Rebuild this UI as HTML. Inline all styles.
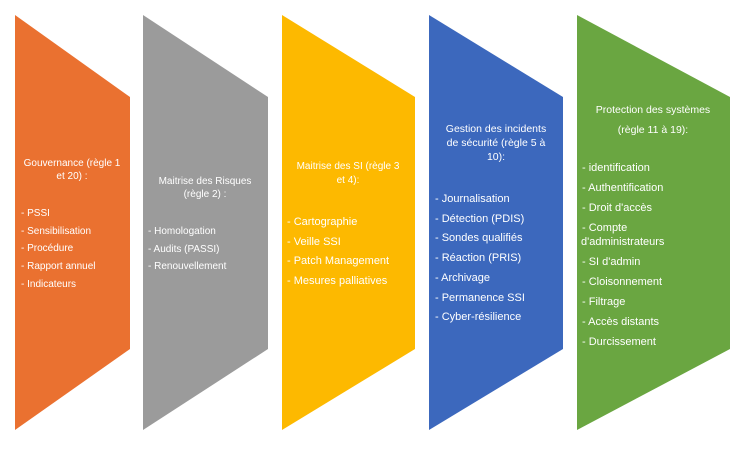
<!DOCTYPE html>
<html><head><meta charset="utf-8"><style>
body{margin:0;width:744px;height:457px;background:#fff;position:relative;overflow:hidden;font-family:"Liberation Sans",sans-serif;color:#fff}
svg{position:absolute;left:0;top:0}
.t{position:absolute;white-space:nowrap;line-height:1}
.c{text-align:center;transform:translateX(-50%)}
</style></head><body>
<svg width="744" height="457">
<polygon points="15,15 130,97 130,349 15,430" fill="#ea7130"/>
<polygon points="143,15 268,97 268,349 143,430" fill="#9b9b9b"/>
<polygon points="282,15 415,97 415,349 282,430" fill="#fdb900"/>
<polygon points="429,15 563,97 563,349 429,430" fill="#3c68bd"/>
<polygon points="577,15 730,97 730,349 577,430" fill="#6aa641"/>
</svg>
<div class="t c" style="left:72px;top:157px;font-size:10px;line-height:13px">Gouvernance (règle 1<br>et 20) :</div>
<div class="t" style="left:21px;top:205px;font-size:10px;line-height:17.7px">- PSSI<br>- Sensibilisation<br>- Procédure<br>- Rapport annuel<br>- Indicateurs</div>
<div class="t c" style="left:205px;top:175px;font-size:10px;line-height:13px">Maitrise des Risques<br>(règle 2) :</div>
<div class="t" style="left:148px;top:223px;font-size:10px;line-height:17.7px">- Homologation<br>- Audits (PASSI)<br>- Renouvellement</div>
<div class="t c" style="left:348px;top:160px;font-size:10px;line-height:14px">Maitrise des SI (règle 3<br>et 4):</div>
<div class="t" style="left:287px;top:213px;font-size:11px;line-height:19.7px">- Cartographie<br>- Veille SSI<br>- Patch Management<br>- Mesures palliatives</div>
<div class="t c" style="left:496px;top:122px;font-size:10.5px;line-height:14px">Gestion des incidents<br>de sécurité (règle 5 à<br>10):</div>
<div class="t" style="left:435px;top:190px;font-size:11px;line-height:19.7px">- Journalisation<br>- Détection (PDIS)<br>- Sondes qualifiés<br>- Réaction (PRIS)<br>- Archivage<br>- Permanence SSI<br>- Cyber-résilience</div>
<div class="t c" style="left:653px;top:100px;font-size:10.5px;line-height:20px">Protection des systèmes<br>(règle 11 à 19):</div>
<div class="t" style="left:582px;top:158px;font-size:11px;line-height:20px">- identification<br>- Authentification<br>- Droit d'accès<br>- Compte<br><span style="display:block;margin-left:-1px;margin-top:-6px">d'administrateurs</span>- SI d'admin<br>- Cloisonnement<br>- Filtrage<br>- Accès distants<br>- Durcissement</div>
</body></html>
